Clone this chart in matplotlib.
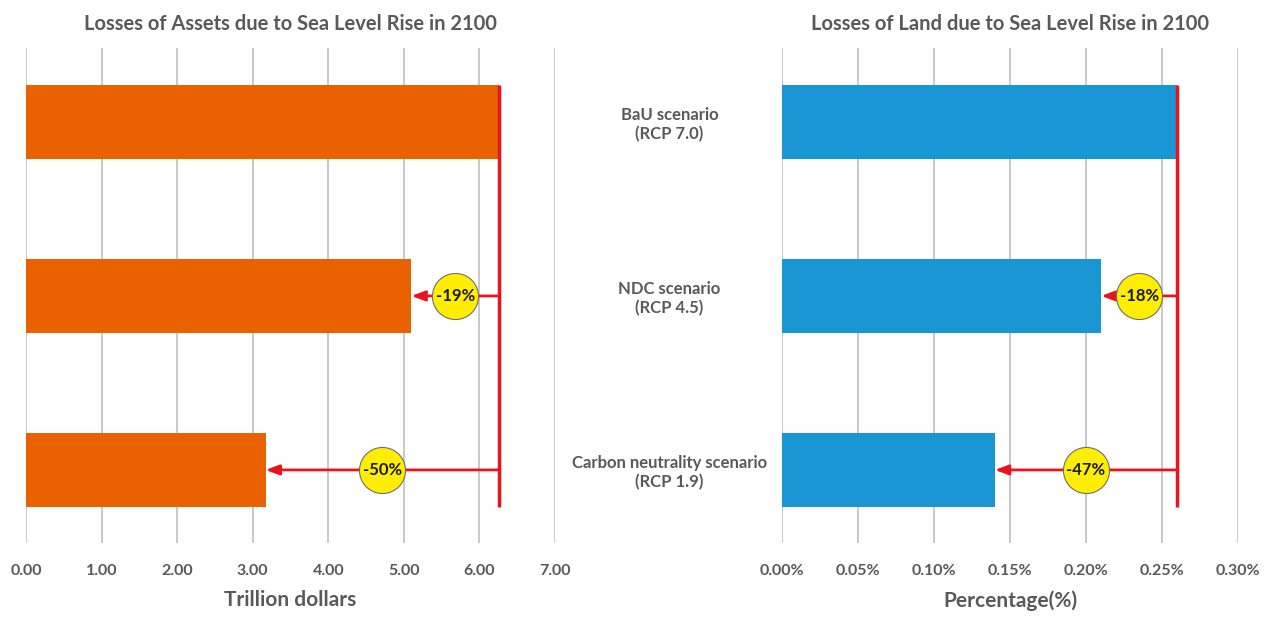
import numpy as np
import matplotlib
matplotlib.use('Agg')
import matplotlib.pyplot as plt
from matplotlib.ticker import FuncFormatter

# Data
scenarios = ['BaU scenario\n(RCP 7.0)', 'NDC scenario\n(RCP 4.5)', 'Carbon neutrality scenario\n(RCP 1.9)']
assets = [6.26, 5.10, 3.17]          # trillion dollars
land = [0.26, 0.21, 0.14]            # percent
assets_change = ['', '-19%', '-50%']
land_change = ['', '-18%', '-47%']

asset_ticks = np.arange(0, 7.01, 1.0)
land_ticks = np.arange(0, 0.301, 0.05)

gray = '#595959'
red = '#e8141e'
plt.rcParams['font.family'] = ['Lato', 'DejaVu Sans']
plt.rcParams['font.weight'] = 'bold'

fig = plt.figure(figsize=(12.67, 6.17), dpi=100)
W, H = 1267, 617
bottom, top = 1 - 543 / H, 1 - 48 / H
ax1 = fig.add_axes([26 / W, bottom, (555 - 26) / W, top - bottom])
ax2 = fig.add_axes([782 / W, bottom, (1238 - 782) / W, top - bottom])

bar_h = 0.43
y = np.arange(len(scenarios))


def draw(ax, vals, changes, color, ticks, fmt, title, xlabel):
    ax.barh(y, vals, height=bar_h, color=color, zorder=2)
    ax.set_xlim(ticks[0], ticks[-1])
    ax.set_ylim(2.42, -0.425)
    ax.set_xticks(ticks)
    ax.xaxis.set_major_formatter(FuncFormatter(fmt))
    ax.grid(axis='x', color='#bfbfbf', linewidth=1.2, zorder=0)
    for s in ax.spines.values():
        s.set_visible(False)
    ax.tick_params(axis='x', length=0, pad=15, labelsize=11.5, labelcolor=gray)
    ax.tick_params(axis='y', length=0)
    ax.set_title(title, fontsize=14.5, color=gray, fontweight='bold', pad=13)
    ax.set_xlabel(xlabel, fontsize=15, color=gray, fontweight='bold', labelpad=9)

    base = vals[0]
    ax.plot([base, base], [-bar_h / 2, y[-1] + bar_h / 2], color=red, lw=2.5, zorder=3,
            solid_capstyle='butt')
    for yi, v, lab in zip(y[1:], vals[1:], changes[1:]):
        ax.annotate('', xy=(v, yi), xytext=(base, yi),
                    arrowprops=dict(arrowstyle='-|>,head_length=0.8,head_width=0.3',
                                    color=red, lw=2, shrinkA=0, shrinkB=0), zorder=3)
        mid = (v + base) / 2
        ax.scatter([mid], [yi], s=1100, color='#ffee00', edgecolor='#6e6e6e',
                   linewidth=0.8, zorder=4)
        ax.text(mid, yi, lab, ha='center', va='center', fontsize=12,
                fontweight='bold', color='#1a1a1a', zorder=5)


draw(ax1, assets, assets_change, '#ea6200', asset_ticks,
     lambda v, p: f'{v:.2f}', 'Losses of Assets due to Sea Level Rise in 2100',
     'Trillion dollars')
ax1.set_yticks([])

draw(ax2, land, land_change, '#1b96d4', land_ticks,
     lambda v, p: f'{v:.2f}%', 'Losses of Land due to Sea Level Rise in 2100',
     'Percentage(%)')
ax2.set_yticks(y)
ax2.set_yticklabels(scenarios, ha='center', fontsize=12, color=gray, fontweight='bold')
ax2.tick_params(axis='y', pad=81)

fig.savefig('out.png', dpi=100)
